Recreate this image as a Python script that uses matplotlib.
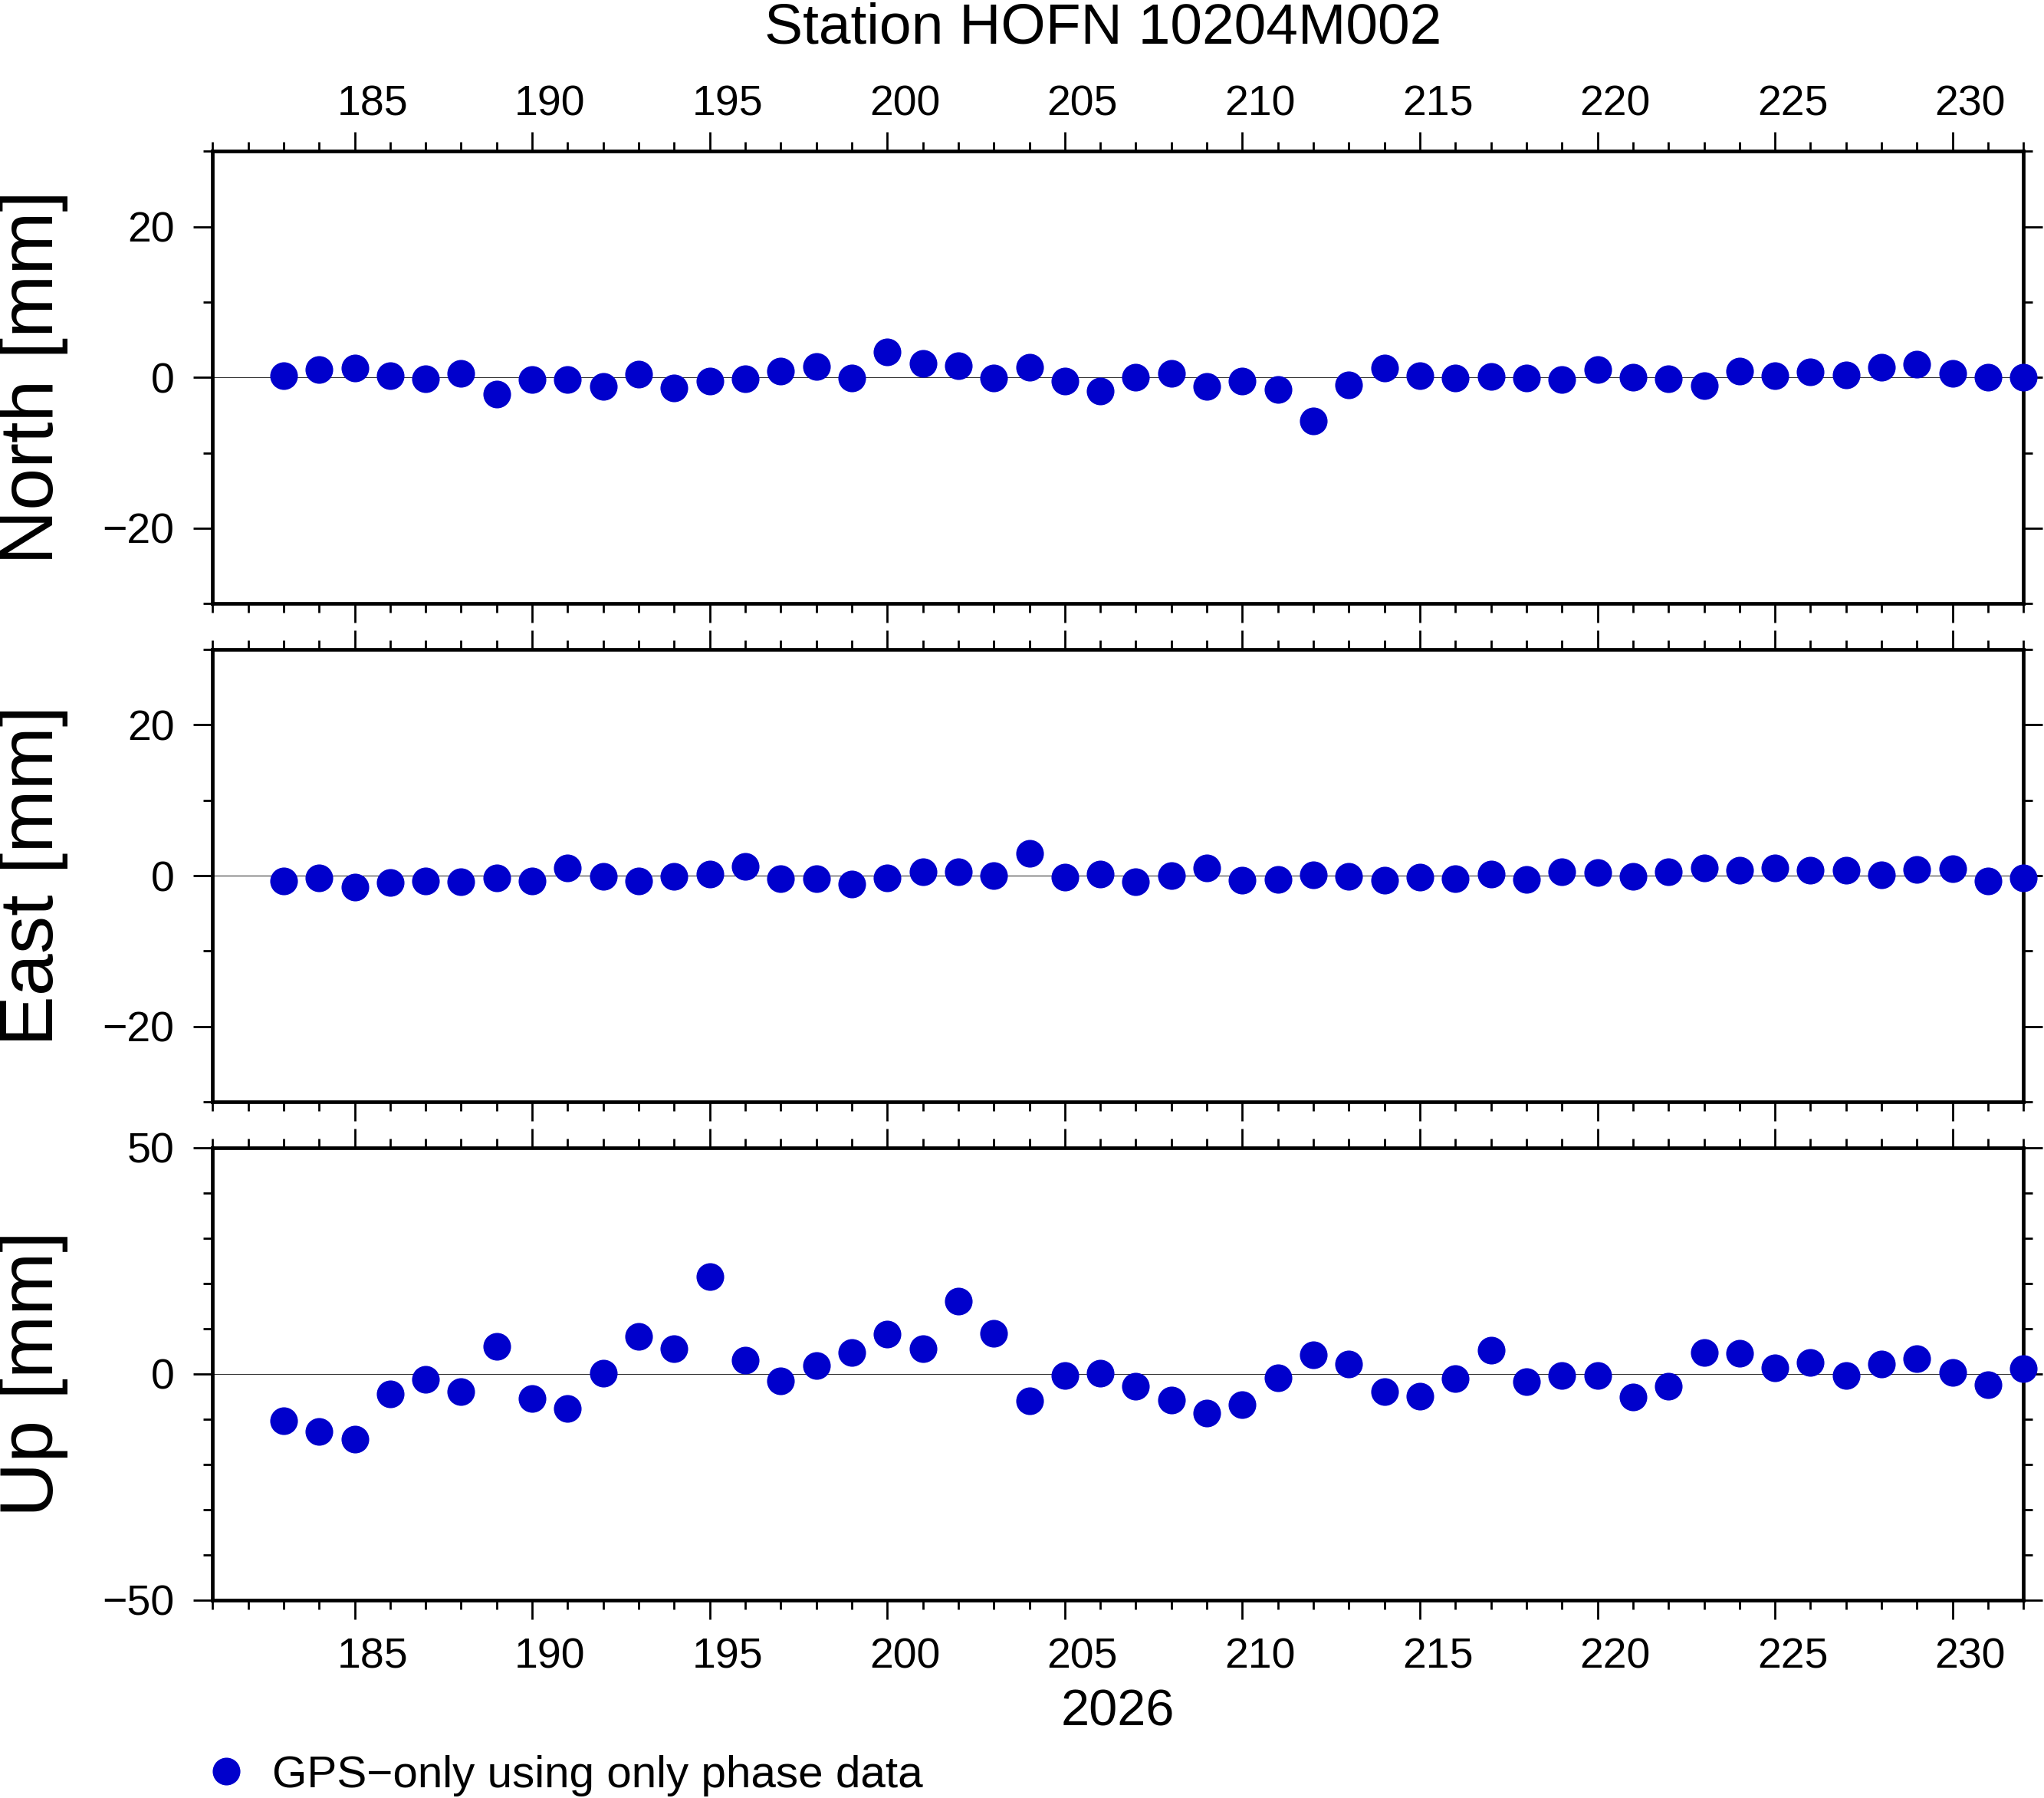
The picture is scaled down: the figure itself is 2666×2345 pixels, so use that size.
import matplotlib
matplotlib.use('Agg')
import matplotlib.pyplot as plt
from matplotlib.lines import Line2D
import numpy as np

plt.rcParams['font.family'] = ['Liberation Sans', 'DejaVu Sans']

# day of year 2026
days = list(range(183, 233))

north = [0.2, 1.0, 1.2, 0.2, -0.2, 0.5, -2.2, -0.3, -0.3, -1.2,
         0.4, -1.4, -0.5, -0.2, 0.8, 1.4, -0.1, 3.4, 1.9, 1.5,
         -0.1, 1.3, -0.5, -1.8, 0.0, 0.5, -1.2, -0.5, -1.6, -5.8,
         -1.0, 1.2, 0.2, -0.1, 0.1, -0.1, -0.3, 1.0, 0.0, -0.2,
         -1.1, 0.8, 0.2, 0.7, 0.3, 1.3, 1.7, 0.5, 0.0, 0.0]

east = [-0.7, -0.3, -1.5, -0.9, -0.7, -0.8, -0.3, -0.7, 1.0, -0.1,
        -0.7, -0.1, 0.2, 1.2, -0.4, -0.4, -1.1, -0.3, 0.5, 0.5,
        0.0, 3.0, -0.2, 0.2, -0.8, 0.0, 1.0, -0.6, -0.5, 0.1,
        -0.1, -0.6, -0.2, -0.4, 0.2, -0.5, 0.5, 0.4, -0.1, 0.5,
        1.0, 0.7, 1.0, 0.7, 0.7, 0.1, 0.8, 0.9, -0.7, -0.3]

up = [-10.4, -12.8, -14.5, -4.5, -1.3, -4.0, 6.0, -5.5, -7.7, 0.1,
      8.2, 5.6, 21.4, 2.9, -1.6, 1.8, 4.6, 8.7, 5.6, 16.0,
      8.9, -6.0, -0.4, 0.1, -2.8, -5.9, -8.7, -6.9, -1.0, 4.1,
      2.1, -4.0, -5.0, -1.1, 5.1, -1.8, -0.4, -0.4, -5.2, -2.8,
      4.6, 4.5, 1.2, 2.4, -0.4, 2.1, 3.3, 0.2, -2.5, 1.1]

panels = [('North [mm]', north, 30, 20, 10),
          ('East [mm]', east, 30, 20, 10),
          ('Up [mm]', up, 50, 50, 10)]

label_days = list(range(185, 231, 5))
dot_color = '#0000cc'
tick_fs = 40

fig = plt.figure(figsize=(26.66, 23.45), dpi=100)

left, width = 0.104, 0.886
bottoms = [0.6643, 0.3872, 0.1102]
height = 0.2516

axes = []
for (name, vals, lim, major, minor), b in zip(panels, bottoms):
    ax = fig.add_axes([left, b, width, height])
    ax.axhline(0, color='#333333', lw=0.8, zorder=1)
    ax.plot(days, vals, 'o', color=dot_color, ms=26, mec='none',
            clip_on=False, zorder=3)
    ax.set_xlim(181, 232)
    ax.set_ylim(-lim, lim)
    ax.set_xticks(range(185, 231, 5))
    ax.set_xticks(range(181, 233), minor=True)
    ax.set_yticks(np.arange(-lim + (lim % major), lim + 0.1, major))
    ax.set_yticks(np.arange(-lim, lim + 0.1, minor), minor=True)
    ax.tick_params(which='both', direction='out', top=True, right=True,
                   labelbottom=False, labelsize=tick_fs, width=2.0)
    ax.tick_params(which='major', length=18, pad=18)
    ax.tick_params(which='minor', length=8.6)
    for s in ax.spines.values():
        s.set_linewidth(3.4)
    fig.text(0.0165, b + height / 2, name, rotation=90, ha='center',
             va='center', fontsize=71)
    axes.append(ax)

# day labels sit between the day ticks
for ax, loc, pad in [(axes[0], 'top', 25), (axes[2], 'bottom', 35)]:
    sec = ax.secondary_xaxis(loc)
    sec.set_xticks([d + 0.5 for d in label_days],
                   [str(d) for d in label_days])
    sec.tick_params(length=0, pad=pad, labelsize=tick_fs)
    sec.spines[loc].set_visible(False)

fig.text(0.5395, 0.976, 'Station HOFN 10204M002', ha='center',
         va='baseline', fontsize=54)
fig.text(0.547, 0.0405, '2026', ha='center', va='baseline', fontsize=48)

handle = Line2D([], [], ls='none', marker='o', ms=26, color=dot_color,
                mec='none')
fig.legend([handle], ['GPS\u2212only using only phase data'],
           loc='center left', bbox_to_anchor=(0.0998, 0.0125),
           frameon=False, fontsize=42, handlelength=1.0,
           handletextpad=0.52, borderpad=0, borderaxespad=0, numpoints=1)

fig.savefig('out.png', dpi=100)
